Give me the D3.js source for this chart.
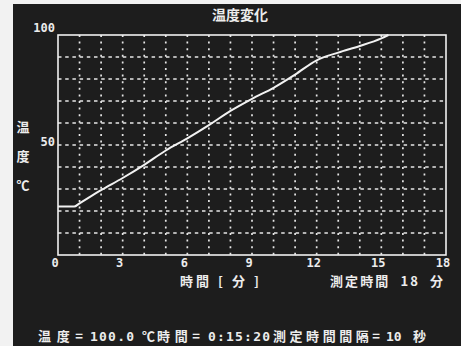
<!DOCTYPE html>
<html>
<head>
<meta charset="utf-8">
<script src="https://cdn.jsdelivr.net/npm/d3@7"></script>
<style>
  body { margin: 0; background: #f2f2f2; }
  text { font-family: "Noto Sans CJK JP", "DejaVu Sans", sans-serif; font-weight: bold; fill: #ececec; }
  text.mono { font-family: "DejaVu Sans Mono", monospace; }
</style>
</head>
<body>
<div id="chart"></div>
<script>
// --- data ---
const minutes = [0, 0.75, 1, 2, 3, 4, 5, 6, 7, 8, 9, 10, 11, 12, 13, 14, 15, 15.33];
const temps = [22, 22, 23.5, 29.5, 35, 41, 47.5, 53, 59, 65.5, 71, 76, 82, 88.5, 92, 95, 98.5, 100];
const xTicks = [0, 3, 6, 9, 12, 15, 18];
const yTicks = [50, 100];
const xGrid = d3.range(1, 18);
const yGrid = d3.range(10, 100, 10);
// status line pieces: text, left edge, width (null = natural)
const status = [
  { x: 38, w: 45, t: "温度=" }, { x: 90, w: 44, t: "100.0", mono: true }, { x: 142, w: null, t: "℃" },
  { x: 157, w: 43, t: "時間=" }, { x: 208, w: 62, t: "0:15:20", mono: true },
  { x: 273, w: 107, t: "測定時間間隔=" }, { x: 386, w: null, t: "10", mono: true }, { x: 413, w: null, t: "秒" }
];

const width = 461, height = 346;
const margin = { top: 35, bottom: 91, left: 58, right: 15 };

const svg = d3.select("#chart")
  .append("svg")
  .attr("width", width)
  .attr("height", height);

// screen area (photo has a light edge top/left)
svg.append("rect")
  .attr("x", 13).attr("y", 4)
  .attr("width", width - 13).attr("height", height - 4)
  .attr("fill", "#1d1d1d");

// --- scales ---
const x = d3.scaleLinear().domain([0, 18]).range([margin.left, width - margin.right]);
const y = d3.scaleLinear().domain([0, 100]).range([height - margin.bottom, margin.top]);

// --- grid ---
const grid = svg.append("g").attr("stroke", "#e6e6e6").attr("stroke-width", 1.7);

grid.selectAll("line.v")
  .data(xGrid).enter().append("line")
  .attr("class", "v")
  .attr("x1", d => x(d)).attr("x2", d => x(d))
  .attr("y1", y(100)).attr("y2", y(0))
  .attr("stroke-dasharray", "2,4.6");

grid.selectAll("line.h")
  .data(yGrid).enter().append("line")
  .attr("class", "h")
  .attr("x1", x(0)).attr("x2", x(18))
  .attr("y1", d => y(d)).attr("y2", d => y(d))
  .attr("stroke-dasharray", "3.5,3.7");

// frame
svg.append("rect")
  .attr("x", x(0)).attr("y", y(100))
  .attr("width", x(18) - x(0)).attr("height", y(0) - y(100))
  .attr("fill", "none")
  .attr("stroke", "#f0f0f0")
  .attr("stroke-width", 1.6);

// --- curve ---
const line = d3.line()
  .curve(d3.curveMonotoneX)
  .x((d, i) => x(d))
  .y((d, i) => y(temps[i]));

svg.append("path")
  .datum(minutes)
  .attr("d", line)
  .attr("fill", "none")
  .attr("stroke", "#f2f2f2")
  .attr("stroke-width", 2);

// --- tick labels ---
svg.selectAll("text.xt")
  .data(xTicks).enter().append("text")
  .attr("class", "xt mono")
  .attr("x", d => x(d)).attr("dx", -3)
  .attr("y", y(0) + 12)
  .attr("text-anchor", "middle")
  .style("font-size", "12px")
  .text(d => d);

svg.selectAll("text.yt")
  .data(yTicks).enter().append("text")
  .attr("class", "yt mono")
  .attr("x", 55)
  .attr("y", d => y(d) - (d === 100 ? 3 : -1))
  .attr("text-anchor", "end")
  .style("font-size", "12px")
  .text(d => d);

// --- titles ---
svg.append("text")
  .attr("x", 240).attr("y", 20)
  .attr("text-anchor", "middle")
  .style("font-size", "14px")
  .text("温度変化");

svg.selectAll("text.ylab")
  .data(["温", "度", "℃"]).enter().append("text")
  .attr("class", "ylab")
  .attr("x", 23)
  .attr("y", (d, i) => [132, 161, 190][i])
  .attr("text-anchor", "middle")
  .style("font-size", "13px")
  .text(d => d);

svg.append("text")
  .attr("x", 180).attr("y", 286)
  .style("font-size", "13px")
  .attr("xml:space", "preserve")
  .attr("textLength", 79)
  .attr("lengthAdjust", "spacing")
  .text("時間 [ 分 ]");

svg.append("text")
  .attr("x", 330).attr("y", 286)
  .style("font-size", "13px")
  .attr("xml:space", "preserve")
  .attr("textLength", 113)
  .attr("lengthAdjust", "spacing")
  .text("測定時間  18  分");

// --- status line ---
svg.selectAll("text.st")
  .data(status).enter().append("text")
  .attr("class", d => d.mono ? "st mono" : "st")
  .attr("x", d => d.x).attr("y", 341)
  .attr("textLength", d => d.w)
  .attr("lengthAdjust", "spacing")
  .style("font-size", "13px")
  .text(d => d.t);
</script>
</body>
</html>
